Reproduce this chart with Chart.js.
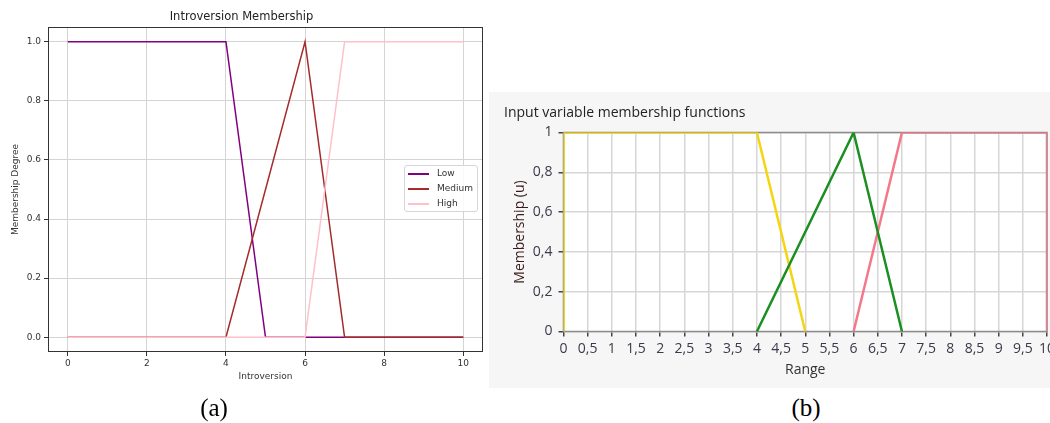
<!DOCTYPE html>
<html>
<head>
<meta charset="utf-8">
<script src="https://cdn.jsdelivr.net/npm/chart.js@4.4.1/dist/chart.umd.min.js"></script>
<style>
  body { margin: 0; background: #fff; width: 1050px; height: 423px; position: relative; overflow: hidden; }
  #canvasA { position: absolute; left: 0; top: 0; }
  #canvasB { position: absolute; left: 489px; top: 92px; }
  .caption { position: absolute; top: 392px; width: 100px; text-align: center; font: 25px "Liberation Serif", serif; line-height: 32px; color: #000; }
  #legendA { position: absolute; left: 404px; top: 165px; width: 72px; height: 45px; border: 1px solid #d6d6d6; border-radius: 3px; background: rgba(255,255,255,0.85); font: 9px "DejaVu Sans", sans-serif; color: #333; }
  #legendA .row { position: absolute; left: 0; height: 15px; width: 72px; }
  #legendA .swatch { position: absolute; left: 3px; top: 7px; width: 21px; height: 2px; }
  #legendA .lbl { position: absolute; left: 32px; top: 2px; }
</style>
</head>
<body>
<canvas id="canvasA" width="490" height="395"></canvas>
<div id="legendA"></div>
<canvas id="canvasB" width="561" height="296"></canvas>
<div class="caption" style="left:164px">(a)</div>
<div class="caption" style="left:756px">(b)</div>
<script>
// ---- chart (a): matplotlib style ----
const labelsA = ['Low', 'Medium', 'High'];
const colorsA = ['#800080', '#a52a2a', '#ffc0cb'];
const lowX_A = [0, 4, 5, 10];
const lowY_A = [1, 1, 0, 0];
const medX_A = [0, 4, 6, 7, 10];
const medY_A = [0, 0, 1, 0, 0];
const highX_A = [0, 6, 7, 10];
const highY_A = [0, 0, 1, 1];
const xTicksA = [0, 2, 4, 6, 8, 10];
const yTicksA = [0, 0.2, 0.4, 0.6, 0.8, 1.0];

// ---- chart (b): LabVIEW style ----
const labelsB = ['Low', 'Medium', 'High'];
const colorsB = ['#f5d511', '#1b8f22', '#f5778a'];
const lowX_B = [0, 0, 4, 5];
const lowY_B = [0, 1, 1, 0];
const medX_B = [4, 6, 7];
const medY_B = [0, 1, 0];
const highX_B = [6, 7, 10, 10];
const highY_B = [0, 1, 1, 0];
const xTicksB = [0, 0.5, 1, 1.5, 2, 2.5, 3, 3.5, 4, 4.5, 5, 5.5, 6, 6.5, 7, 7.5, 8, 8.5, 9, 9.5, 10];
const xTickLabelsB = ['0', '0,5', '1', '1,5', '2', '2,5', '3', '3,5', '4', '4,5', '5', '5,5', '6', '6,5', '7', '7,5', '8', '8,5', '9', '9,5', '10'];
const yTicksB = [0, 0.2, 0.4, 0.6, 0.8, 1];
const yTickLabelsB = ['0', '0,2', '0,4', '0,6', '0,8', '1'];

function toPoints(xs, ys) {
  // pairs the x and y arrays into chart.js points
  return xs.map((x, i) => ({ x: x, y: ys[i] }));
}

// draws a rectangle round the plot area (spines)
const frameA = {
  id: 'frameA',
  afterDatasetsDraw(chart) {
    const a = chart.chartArea;
    const ctx = chart.ctx;
    ctx.save();
    ctx.strokeStyle = '#333';
    ctx.lineWidth = 1;
    ctx.strokeRect(a.left + 0.5, a.top + 0.5, a.right - a.left - 1, a.bottom - a.top - 1);
    ctx.restore();
  }
};

const fontA = { family: 'DejaVu Sans', size: 9 };

let chartA = new Chart(document.getElementById('canvasA').getContext('2d'), {
  type: 'scatter',
  data: {
    datasets: [
      { label: labelsA[0], data: toPoints(lowX_A, lowY_A), borderColor: colorsA[0], order: 3 },
      { label: labelsA[1], data: toPoints(medX_A, medY_A), borderColor: colorsA[1], order: 2 },
      { label: labelsA[2], data: toPoints(highX_A, highY_A), borderColor: colorsA[2], order: 1 }
    ].map(d => Object.assign(d, { showLine: true, pointRadius: 0, borderWidth: 1.5, fill: false, tension: 0 }))
  },
  options: {
    responsive: false,
    animation: false,
    layout: { padding: { left: 0, right: 7, top: 0, bottom: 0 }, autoPadding: false },
    plugins: {
      legend: { display: false },
      tooltip: { enabled: false },
      title: {
        display: true,
        text: 'Introversion Membership',
        font: { family: 'DejaVu Sans', size: 11.5, weight: 'normal' },
        color: '#222',
        padding: { top: 10, bottom: 3.2 }
      }
    },
    scales: {
      x: {
        type: 'linear', min: -0.5, max: 10.5,
        afterBuildTicks: s => { s.ticks = xTicksA.map(v => ({ value: v })); },
        afterFit: s => { s.height = 43; s.paddingLeft = 0; s.paddingRight = 0; },
        grid: { color: '#d4d4d4', lineWidth: 1, tickLength: 4, tickColor: '#333' },
        border: { display: false },
        ticks: { font: fontA, color: '#333', padding: 2, maxRotation: 0, autoSkip: false },
        title: { display: true, text: 'Introversion', font: fontA, color: '#333', padding: { top: 0, bottom: 12.6 } }
      },
      y: {
        type: 'linear', min: -0.05, max: 1.05,
        afterBuildTicks: s => { s.ticks = yTicksA.map(v => ({ value: v })); },
        afterFit: s => { s.width = 48; s.paddingTop = 0; s.paddingBottom = 0; },
        grid: { color: '#d4d4d4', lineWidth: 1, tickLength: 4, tickColor: '#333' },
        border: { display: false },
        ticks: { font: fontA, color: '#333', padding: 3, callback: v => v.toFixed(1) },
        title: { display: true, text: 'Membership Degree', font: fontA, color: '#333', padding: { top: 10.6, bottom: 0 } }
      }
    }
  },
  plugins: [frameA]
});

// legend of (a), built from the datasets
let legendBox = document.getElementById('legendA');
labelsA.forEach((name, i) => {
  let row = document.createElement('div');
  row.className = 'row';
  row.style.top = (i * 15) + 'px';
  row.innerHTML = '<span class="swatch" style="background:' + colorsA[i] + '"></span><span class="lbl">' + name + '</span>';
  legendBox.appendChild(row);
});

// white plot area and grey frame for (b)
const frameB = {
  id: 'frameB',
  beforeDraw(chart) {
    const a = chart.chartArea;
    const ctx = chart.ctx;
    ctx.save();
    ctx.fillStyle = '#f6f6f6';
    ctx.fillRect(0, 0, chart.width, chart.height);
    ctx.fillStyle = '#ffffff';
    ctx.fillRect(a.left, a.top, a.right - a.left, a.bottom - a.top);
    ctx.restore();
  },
  beforeDatasetsDraw(chart) {
    const a = chart.chartArea;
    const ctx = chart.ctx;
    ctx.save();
    ctx.strokeStyle = '#8c8c8c';
    ctx.lineWidth = 1.5;
    ctx.strokeRect(a.left, a.top, a.right - a.left, a.bottom - a.top);
    ctx.restore();
  }
};

const fontB = { family: 'Open Sans', size: 14 };

let chartB = new Chart(document.getElementById('canvasB').getContext('2d'), {
  type: 'scatter',
  data: {
    datasets: [
      { label: labelsB[0], data: toPoints(lowX_B, lowY_B), borderColor: colorsB[0], order: 2 },
      { label: labelsB[1], data: toPoints(medX_B, medY_B), borderColor: colorsB[1], order: 1 },
      { label: labelsB[2], data: toPoints(highX_B, highY_B), borderColor: colorsB[2], order: 3 }
    ].map(d => Object.assign(d, { showLine: true, pointRadius: 0, borderWidth: 2.5, fill: false, tension: 0 }))
  },
  options: {
    responsive: false,
    animation: false,
    layout: { padding: { left: 15, right: 3, top: 0, bottom: 0 }, autoPadding: false },
    plugins: {
      legend: { display: false },
      tooltip: { enabled: false },
      title: {
        display: true,
        align: 'start',
        text: 'Input variable membership functions',
        font: { family: 'Open Sans', size: 14, weight: 'normal' },
        color: '#222',
        padding: { top: 12.6, bottom: 11.1 }
      }
    },
    scales: {
      x: {
        type: 'linear', min: 0, max: 10,
        afterBuildTicks: s => { s.ticks = xTicksB.map(v => ({ value: v })); },
        afterFit: s => { s.height = 56.5; s.paddingLeft = 0; s.paddingRight = 0; },
        grid: { color: '#d6d6d6', lineWidth: 1.5, tickLength: 5, tickColor: '#444' },
        border: { display: false },
        ticks: { font: fontB, color: '#3a3a4a', padding: 4, maxRotation: 0, autoSkip: false,
                 callback: (v, i) => xTickLabelsB[i] },
        title: { display: true, text: 'Range', font: fontB, color: '#333', padding: { top: 0, bottom: 9.6 } }
      },
      y: {
        type: 'linear', min: 0, max: 1,
        afterBuildTicks: s => { s.ticks = yTicksB.map(v => ({ value: v })); },
        afterFit: s => { s.width = 59.5; s.paddingTop = 0; s.paddingBottom = 0; },
        grid: { color: '#d6d6d6', lineWidth: 1.5, tickLength: 5, tickColor: '#444' },
        border: { display: false },
        ticks: { font: fontB, color: '#3a3a4a', padding: 6, callback: (v, i) => yTickLabelsB[i] },
        title: { display: true, text: 'Membership (u)', font: fontB, color: '#3a1c1c', padding: { top: 7.3, bottom: 0 } }
      }
    }
  },
  plugins: [frameB]
});
</script>
</body>
</html>
